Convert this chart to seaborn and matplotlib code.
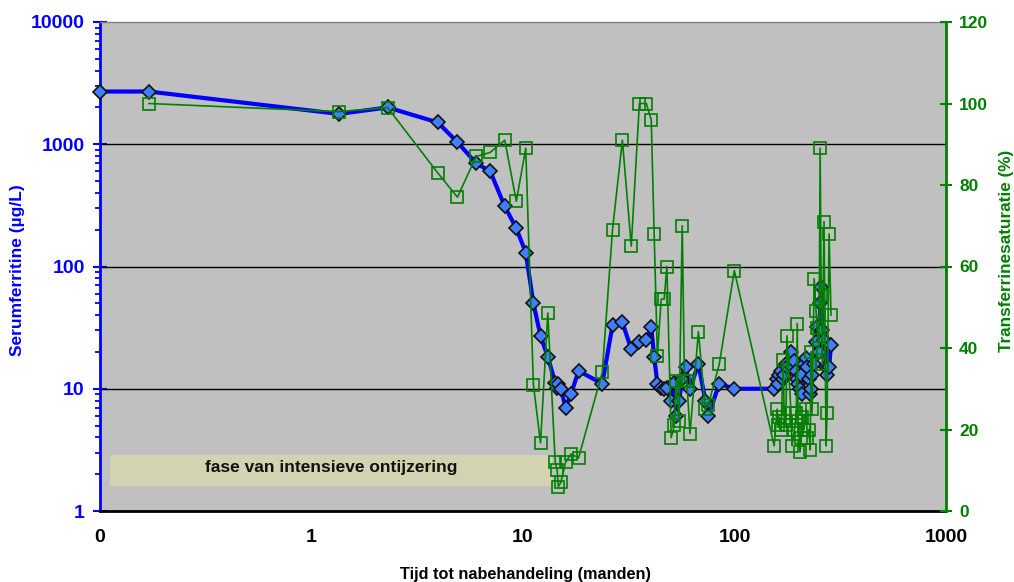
import matplotlib
matplotlib.use("Agg")
import matplotlib.pyplot as plt
import seaborn as sns
import numpy as np
import pandas as pd
from matplotlib.patches import Rectangle
from matplotlib.ticker import LogLocator, FixedLocator, FixedFormatter, NullFormatter

# ---------------- data ----------------
# Serumferritine (µg/L) versus time (months); time "0" drawn at 0.1 on the log axis
ferritin_time = [0.1, 0.17, 1.35, 2.29, 3.95, 4.9, 6.0, 7.0, 8.2, 9.3, 10.3, 11.2, 12.1, 13.1,
                 14.2, 14.5, 14.7, 15.1, 15.9, 16.9, 18.3, 23.7, 26.5, 29.5, 32.5, 35.5, 38.3,
                 40.4, 41.7, 43.2, 45.0, 46.5, 47.9, 50.2, 51.9, 53.0, 54.7, 56.6, 59.0, 61.6,
                 67.5, 72.8, 75.2, 84.7, 99.8,
                 154, 159, 161, 163, 166, 170, 172, 175, 177, 185, 187, 192, 196, 198, 200,
                 204, 207, 209, 213, 218, 221, 225, 228, 230, 233, 238, 243, 246, 251, 254,
                 257, 260, 265, 271, 274, 280, 286]
ferritin_value = [2700, 2700, 1770, 2000, 1510, 1040, 700, 600, 310, 205, 130, 50, 27, 18.3,
                  11.2, 10.2, 11, 10, 7, 9.1, 14, 11, 33, 35, 21, 24, 25,
                  32, 18.3, 11, 10.2, 10, 10.2, 8, 11.2, 6, 8, 12, 15, 10,
                  16, 8, 6, 11, 10,
                  10, 12, 11, 13, 14, 12, 13, 16, 15, 20, 15, 17, 14, 12, 11,
                  10, 13, 9, 16, 18, 15, 12, 9, 10, 13, 16, 24, 32, 20, 50,
                  68, 30, 25, 15, 13, 15, 23]

# Transferrinesaturatie (%) versus time (months)
saturation_time = [0.17, 1.35, 2.29, 3.95, 4.9, 6.0, 7.0, 8.2, 9.3, 10.3, 11.2, 12.1, 13.1,
                   14.2, 14.5, 14.7, 15.1, 15.9, 16.9, 18.3, 23.7, 26.5, 29.5, 32.5, 35.5,
                   38.3, 40.4, 41.7, 43.2, 45.0, 46.5, 47.9, 50.2, 51.9, 53.0, 54.7, 56.6,
                   58.0, 59.5, 61.6, 67.5, 72.8, 75.2, 84.7, 99.8,
                   154, 159, 161, 163, 166, 170, 172, 175, 177, 185, 187, 192, 196, 198, 200,
                   204, 207, 209, 213, 218, 221, 225, 228, 230, 233, 238, 243, 246, 251, 254,
                   257, 260, 265, 271, 274, 280, 286]
saturation_value = [100, 98, 99, 83, 77, 87, 88, 91, 76, 89, 31, 16.7, 48.6,
                    12, 10, 6, 7, 12, 14, 13, 34, 69, 91, 65, 100,
                    100, 96, 68, 38, 52, 52, 60, 18, 21, 32, 22, 70,
                    32, 32, 19, 44, 25, 26, 36, 59,
                    16, 25, 21, 23, 20, 37, 22, 21, 43, 24, 16, 20, 24, 46, 22,
                    14.5, 18, 23, 20, 25, 18, 20, 15, 39, 25, 57, 49, 45, 40, 89,
                    53, 36, 71, 16, 24, 68, 48]

x_tick_values = [0.1, 1, 10, 100, 1000]
x_tick_labels = ["0", "1", "10", "100", "1000"]
y_left_ticks = [1, 10, 100, 1000, 10000]
y_left_labels = ["1", "10", "100", "1000", "10000"]
y_right_ticks = [0, 20, 40, 60, 80, 100, 120]

phase_label = "fase van intensieve ontijzering"

df_f = pd.DataFrame({"t": ferritin_time, "v": ferritin_value})
df_s = pd.DataFrame({"t": saturation_time, "v": saturation_value})

# ---------------- style ----------------
sns.set_theme(style="white")
plt.rcParams["font.family"] = ["Liberation Sans", "DejaVu Sans"]
plt.rcParams["font.weight"] = "bold"

W, H = 1014, 582
fig = plt.figure(figsize=(W / 100, H / 100), dpi=100)
ax = fig.add_axes([100 / W, 1 - 511 / H, 846 / W, 489 / H])
ax.set_facecolor("#C0C0C0")
ax2 = ax.twinx()

BLUE = "#0000FF"
GREEN = "#008000"

# gridlines (left axis decades)
for yv in [10, 100, 1000]:
    ax.axhline(yv, color="black", lw=1, zorder=1)

# phase box
ax.add_patch(Rectangle((0.0118, 0.051), 0.523, 0.0634, transform=ax.transAxes,
                       facecolor="#D3D3B1", edgecolor="none", zorder=2))
ax.text(0.273, 0.088, phase_label, transform=ax.transAxes, ha="center", va="center",
        fontsize=12.5, fontweight="bold", color="#111111", zorder=3)

sns.lineplot(data=df_f, x="t", y="v", ax=ax, sort=False, estimator=None,
             color=BLUE, lw=3, marker="D", markersize=7,
             markerfacecolor="#3F7FFF", markeredgecolor="#111111", markeredgewidth=1.2,
             zorder=4, clip_on=False)
sns.lineplot(data=df_s, x="t", y="v", ax=ax2, sort=False, estimator=None,
             color=GREEN, lw=1.2, marker="s", markersize=8.5,
             markerfacecolor="none", markeredgecolor=GREEN, markeredgewidth=1.2,
             zorder=5, clip_on=False)

# scales / limits
ax.set_xscale("log")
ax.set_yscale("log")
ax.set_xlim(0.1, 1000)
ax.set_ylim(1, 10000)
ax2.set_ylim(0, 120)

# ticks
ax.xaxis.set_major_locator(FixedLocator(x_tick_values))
ax.xaxis.set_major_formatter(FixedFormatter(x_tick_labels))
ax.xaxis.set_minor_locator(LogLocator(base=10, subs=np.arange(2, 10)))
ax.xaxis.set_minor_formatter(NullFormatter())
ax.yaxis.set_major_locator(FixedLocator(y_left_ticks))
ax.yaxis.set_major_formatter(FixedFormatter(y_left_labels))
ax.yaxis.set_minor_locator(LogLocator(base=10, subs=np.arange(2, 10)))
ax.yaxis.set_minor_formatter(NullFormatter())
ax2.yaxis.set_major_locator(FixedLocator(y_right_ticks))

ax.tick_params(axis="x", which="major", direction="inout", length=10, width=1.5,
               color="black", labelsize=14, pad=8, labelcolor="black")
ax.tick_params(axis="x", which="minor", direction="in", length=3.3, width=1.3, color="black")
ax.tick_params(axis="y", which="major", direction="inout", length=10, width=1.5,
               color=BLUE, labelsize=14, pad=6, labelcolor=BLUE, left=True)
ax.tick_params(axis="y", which="minor", direction="out", length=3.6, width=1.3, color=BLUE, left=True)
ax2.tick_params(axis="y", which="major", direction="inout", length=9, width=1.5,
                color=GREEN, labelsize=12.5, pad=5, labelcolor=GREEN, right=True)
for lab in ax.get_xticklabels() + ax.get_yticklabels() + ax2.get_yticklabels():
    lab.set_fontweight("bold")

# spines
for sp in ["left", "right", "top", "bottom"]:
    ax2.spines[sp].set_visible(False)
ax.spines["right"].set_visible(False)
ax.spines["left"].set_color(BLUE)
ax.spines["left"].set_linewidth(2)
ax.spines["bottom"].set_color("black")
ax.spines["bottom"].set_linewidth(2)
ax.spines["top"].set_color("#808080")
ax.spines["top"].set_linewidth(1)
ax2.spines["right"].set_visible(True)
ax2.spines["right"].set_color(GREEN)
ax2.spines["right"].set_linewidth(2)

ax.set_xlabel("")
ax.set_ylabel("")
ax2.set_ylabel("")

fig.text(525 / W, 1 - 574 / H, "Tijd tot nabehandeling (manden)", ha="center", va="center",
         fontsize=11.7, fontweight="bold", color="black")
fig.text(18 / W, 1 - 270 / H, "Serumferritine (µg/L)", ha="center", va="center",
         rotation=90, fontsize=12.5, fontweight="bold", color=BLUE)
fig.text(1007 / W, 1 - 251 / H, "Transferrinesaturatie (%)", ha="center", va="center",
         rotation=90, fontsize=12.3, fontweight="bold", color=GREEN)

fig.savefig("out.png", dpi=100)
